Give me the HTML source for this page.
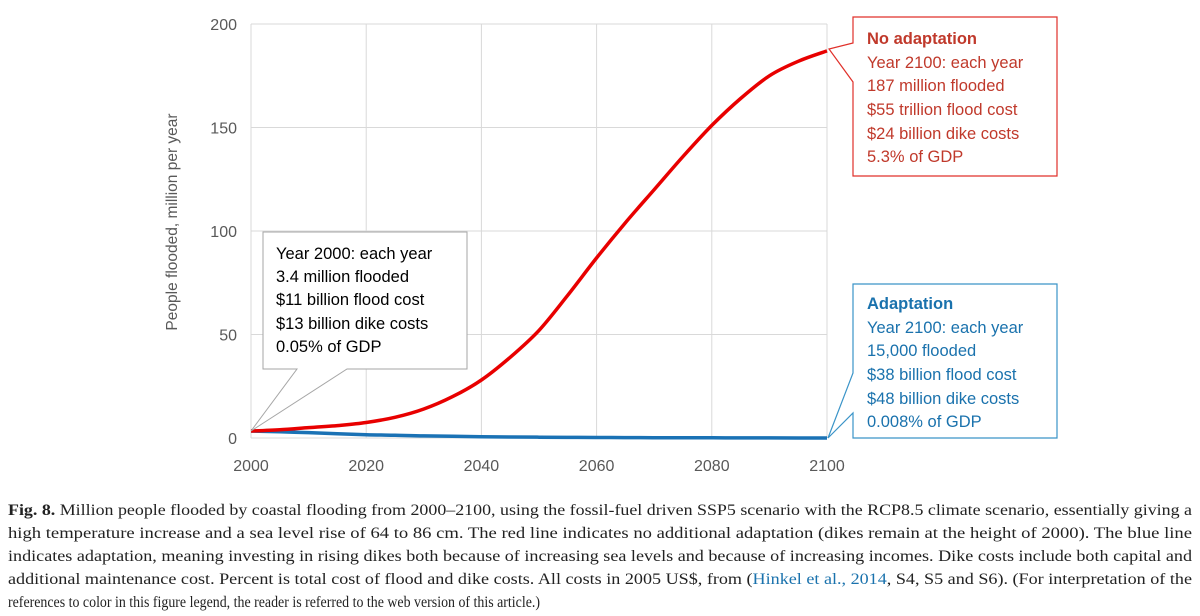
<!DOCTYPE html>
<html><head><meta charset="utf-8"><style>
body{margin:0;background:#fff;}
svg{display:block;font-family:"Liberation Sans",sans-serif;}
</style></head><body>
<svg id="chart" width="1200" height="616" viewBox="0 0 1200 616" xmlns="http://www.w3.org/2000/svg">
<g id="grid"></g>
<g id="axes"></g>
<text transform="translate(177,222) rotate(-90)" text-anchor="middle" font-size="15.5" fill="#595959">People flooded, million per year</text>
<g id="series"></g>

<g>
<path d="M263 232 H467 V369 H347 L251 431 L297 369 H263 Z" fill="#fff" stroke="#a6a6a6" stroke-width="1"/>
<g font-size="16.5" fill="#000">
<text x="276" y="259">Year 2000: each year</text>
<text x="276" y="282">3.4 million flooded</text>
<text x="276" y="305">$11 billion flood cost</text>
<text x="276" y="329">$13 billion dike costs</text>
<text x="276" y="352">0.05% of GDP</text>
</g></g>

<g>
<path d="M853 17 H1057 V176 H853 V82 L829 49 L853 43 Z" fill="#fff" stroke="#e0302a" stroke-width="1.2"/>
<g font-size="16.5" fill="#c0392b">
<text x="867" y="44" font-weight="bold">No adaptation</text>
<text x="867" y="68">Year 2100: each year</text>
<text x="867" y="91">187 million flooded</text>
<text x="867" y="115">$55 trillion flood cost</text>
<text x="867" y="139">$24 billion dike costs</text>
<text x="867" y="162">5.3% of GDP</text>
</g></g>

<g>
<path d="M853 284 H1057 V438 H853 V413 L828 438 L853 373 Z" fill="#fff" stroke="#3a94c8" stroke-width="1.2"/>
<g font-size="16.5" fill="#1a72ad">
<text x="867" y="309" font-weight="bold">Adaptation</text>
<text x="867" y="333">Year 2100: each year</text>
<text x="867" y="356">15,000 flooded</text>
<text x="867" y="380">$38 billion flood cost</text>
<text x="867" y="404">$48 billion dike costs</text>
<text x="867" y="427">0.008% of GDP</text>
</g></g>

<g font-family="'Liberation Serif',serif" font-size="15.5" fill="#222">
<text x="8" y="515" textLength="1184" lengthAdjust="spacingAndGlyphs"><tspan font-weight="bold">Fig. 8.</tspan> Million people flooded by coastal flooding from 2000–2100, using the fossil-fuel driven SSP5 scenario with the RCP8.5 climate scenario, essentially giving a</text>
<text x="8" y="538" textLength="1184" lengthAdjust="spacingAndGlyphs">high temperature increase and a sea level rise of 64 to 86 cm. The red line indicates no additional adaptation (dikes remain at the height of 2000). The blue line</text>
<text x="8" y="561" textLength="1184" lengthAdjust="spacingAndGlyphs">indicates adaptation, meaning investing in rising dikes both because of increasing sea levels and because of increasing incomes. Dike costs include both capital and</text>
<text x="8" y="584" textLength="1184" lengthAdjust="spacingAndGlyphs">additional maintenance cost. Percent is total cost of flood and dike costs. All costs in 2005 US$, from (<tspan fill="#1a72ad">Hinkel et al., 2014</tspan>, S4, S5 and S6). (For interpretation of the</text>
<text x="8" y="607" textLength="532" lengthAdjust="spacingAndGlyphs">references to color in this figure legend, the reader is referred to the web version of this article.)</text>
</g>
</svg>
<script>
const years = [2000,2005,2010,2015,2020,2025,2030,2035,2040,2045,2050,2055,2060,2065,2070,2075,2080,2085,2090,2095,2100];
const noAdaptation = [3.4,4,5,6,7.5,10,14,20,28,39,52,69,87,104,120,136,151,164,175,182,187];
const adaptation = [3.4,3,2.6,2.1,1.6,1.3,1.0,0.8,0.6,0.5,0.4,0.3,0.25,0.2,0.15,0.12,0.1,0.06,0.04,0.02,0.015];
const xTicks = [2000,2020,2040,2060,2080,2100];
const yTicks = [0,50,100,150,200];

const X0=251,X1=827,Y0=438,Y1=24;
const xs=v=>X0+(v-2000)/100*(X1-X0);
const ys=v=>Y0-v/200*(Y0-Y1);
const NS='http://www.w3.org/2000/svg';
function mk(tag,attrs,parent){const e=document.createElementNS(NS,tag);for(const k in attrs)e.setAttribute(k,attrs[k]);parent.appendChild(e);return e;}
const grid=document.getElementById('grid'),axes=document.getElementById('axes'),series=document.getElementById('series');
yTicks.forEach(t=>{
  const l=mk('line',{x1:X0,x2:X1,y1:ys(t),y2:ys(t),stroke:'#d9d9d9','stroke-width':1},grid);
  
  
  const tx=mk('text',{x:X0-14,y:ys(t)+6,'text-anchor':'end','font-size':16,fill:'#595959'},axes);
  tx.textContent=t;
  
  
});
xTicks.forEach(t=>{
  const l=mk('line',{x1:xs(t),x2:xs(t),y1:Y1,y2:Y0,stroke:'#d9d9d9','stroke-width':1},grid);
  
  
  const tx=mk('text',{x:xs(t),y:Y0+33,'text-anchor':'middle','font-size':16,fill:'#595959'},axes);
  tx.textContent=t;
  
  
});
function path(vals){
  const p=vals.map((v,i)=>[xs(years[i]),ys(v)]);
  let d='M'+p[0][0].toFixed(1)+' '+p[0][1].toFixed(1);
  for(let i=0;i<p.length-1;i++){
    const a=p[Math.max(0,i-1)],b=p[i],c=p[i+1],e=p[Math.min(p.length-1,i+2)];
    const c1=[b[0]+(c[0]-a[0])/6,b[1]+(c[1]-a[1])/6];
    const c2=[c[0]-(e[0]-b[0])/6,c[1]-(e[1]-b[1])/6];
    d+=' C'+c1[0].toFixed(1)+' '+c1[1].toFixed(1)+' '+c2[0].toFixed(1)+' '+c2[1].toFixed(1)+' '+c[0].toFixed(1)+' '+c[1].toFixed(1);
  }
  return d;
}
const b=mk('path',{d:path(adaptation),fill:'none',stroke:'#1a72b5','stroke-width':3.5,'stroke-linejoin':'round'},series);


const r=mk('path',{d:path(noAdaptation),fill:'none',stroke:'#e80000','stroke-width':3.5,'stroke-linejoin':'round'},series);


</script>
</body></html>
